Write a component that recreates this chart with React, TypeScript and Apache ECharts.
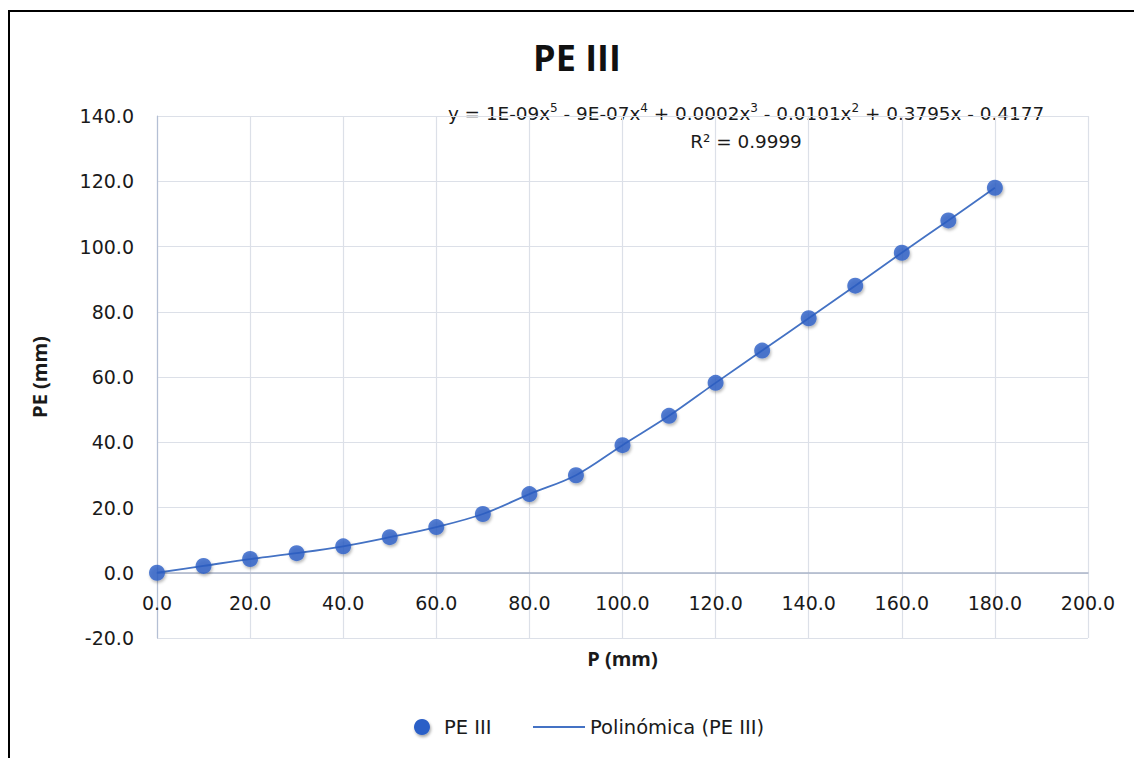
import React, { useEffect, useRef } from "react";
import * as echarts from "echarts";

const P_MM = [0, 10, 20, 30, 40, 50, 60, 70, 80, 90, 100, 110, 120, 130, 140, 150, 160, 170, 180];
const PE_MM = [0.0, 2.1, 4.2, 6.0, 8.1, 10.9, 14.0, 18.0, 24.1, 29.9, 39.1, 48.1, 58.2, 68.1, 78.0, 88.0, 98.1, 108.0, 118.0];
const TITLE = "PE III";
const SERIES_NAME = "PE III";
const TREND_NAME = "Polinómica (PE III)";
const X_NAME = "P (mm)";
const Y_NAME = "PE (mm)";
const EQUATION =
  "y = 1E-09x{sup|5} - 9E-07x{sup|4} + 0.0002x{sup|3} - 0.0101x{sup|2} + 0.3795x - 0.4177";
const R2 = "R² = 0.9999";

const FONT = "'DejaVu Sans', 'Open Sans', sans-serif";
const BOLD_FONT = "'Open Sans', Lato, sans-serif";
const TEXT_COLOR = "#1a1a1a";
const MARKER = "#2c5fc7";
const TREND = "#4472c4";

export default function App() {
  const ref = useRef<HTMLDivElement>(null);
  useEffect(() => {
    if (!ref.current) return;
    const chart = echarts.init(ref.current, undefined, { renderer: "svg" });
    const pts = P_MM.map((p, i) => [p, PE_MM[i]]);
    chart.setOption({
      animation: false,
      backgroundColor: "#ffffff",
      textStyle: { fontFamily: FONT },
      grid: { left: 157, right: 46, top: 116, bottom: 120, containLabel: false },
      xAxis: {
        type: "value",
        min: 0,
        max: 200,
        interval: 20,
        name: X_NAME,
        nameLocation: "middle",
        nameGap: 10,
        nameTextStyle: { fontSize: 20, fontWeight: "bold", color: TEXT_COLOR, fontFamily: BOLD_FONT },
        axisLine: { show: true, onZero: true, lineStyle: { color: "#aab4c8", width: 1.5 } },
        axisTick: { show: false },
        axisLabel: {
          fontSize: 19,
          color: TEXT_COLOR,
          margin: -45,
          fontFamily: FONT,
          formatter: (v: number) => v.toFixed(1),
        },
        splitLine: { show: true, lineStyle: { color: "#dce0e8", width: 1.2 } },
      },
      yAxis: {
        type: "value",
        min: -20,
        max: 140,
        interval: 20,
        name: Y_NAME,
        nameLocation: "middle",
        nameGap: 108,
        nameTextStyle: { fontSize: 20, fontWeight: "bold", color: TEXT_COLOR, fontFamily: BOLD_FONT },
        axisLine: { show: true, onZero: false, lineStyle: { color: "#b4bfd4", width: 1.2 } },
        axisTick: { show: false },
        axisLabel: {
          fontSize: 19,
          color: TEXT_COLOR,
          margin: 23,
          fontFamily: FONT,
          formatter: (v: number) => v.toFixed(1),
        },
        splitLine: { show: true, lineStyle: { color: "#dce0e8", width: 1.2 } },
      },
      series: [
        {
          name: TREND_NAME,
          type: "line",
          data: pts,
          smooth: 0.35,
          showSymbol: false,
          symbol: "none",
          lineStyle: { color: TREND, width: 1.8 },
          z: 2,
        },
        {
          name: SERIES_NAME,
          type: "scatter",
          data: pts,
          symbol: "circle",
          symbolSize: 16,
          itemStyle: {
            color: MARKER,
            shadowBlur: 3,
            shadowColor: "rgba(0,0,0,0.35)",
            shadowOffsetX: 1,
            shadowOffsetY: 2,
          },
          z: 3,
        },
      ],
      graphic: [
        {
          type: "rect",
          shape: { x: 9, y: 11, width: 1200, height: 800 },
          style: { fill: "none", stroke: "#000000", lineWidth: 2 },
          silent: true,
        },
        {
          type: "text",
          x: 577,
          y: 57,
          style: {
            text: TITLE,
            fontSize: 36,
            fontWeight: "bold",
            fontFamily: BOLD_FONT,
            fill: "#111111",
            align: "center",
            verticalAlign: "middle",
          },
        },
        {
          type: "text",
          x: 746,
          y: 113,
          style: {
            text: EQUATION,
            fontSize: 18.4,
            fontFamily: FONT,
            fill: TEXT_COLOR,
            align: "center",
            verticalAlign: "middle",
            lineHeight: 22,
            rich: {
              sup: { fontSize: 12, verticalAlign: "top", lineHeight: 12, fill: TEXT_COLOR, fontFamily: FONT },
            },
          },
        },
        {
          type: "text",
          x: 746,
          y: 141,
          style: {
            text: R2,
            fontSize: 18.4,
            fontFamily: FONT,
            fill: TEXT_COLOR,
            align: "center",
            verticalAlign: "middle",
          },
        },
        {
          type: "circle",
          shape: { cx: 422, cy: 727, r: 8 },
          style: { fill: MARKER, shadowBlur: 3, shadowColor: "rgba(0,0,0,0.35)", shadowOffsetX: 1, shadowOffsetY: 2 },
        },
        {
          type: "text",
          x: 444,
          y: 727,
          style: { text: SERIES_NAME, fontSize: 19.5, fontFamily: FONT, fill: TEXT_COLOR, verticalAlign: "middle" },
        },
        {
          type: "line",
          shape: { x1: 533, y1: 727, x2: 585, y2: 727 },
          style: { stroke: TREND, lineWidth: 1.8 },
        },
        {
          type: "text",
          x: 590,
          y: 727,
          style: { text: TREND_NAME, fontSize: 19.5, fontFamily: FONT, fill: TEXT_COLOR, verticalAlign: "middle" },
        },
      ],
    });
    return () => chart.dispose();
  }, []);
  return (
    <div
      ref={ref}
      style={{ position: "fixed", left: 0, top: 0, width: 1134, height: 758, background: "#fff" }}
    />
  );
}
